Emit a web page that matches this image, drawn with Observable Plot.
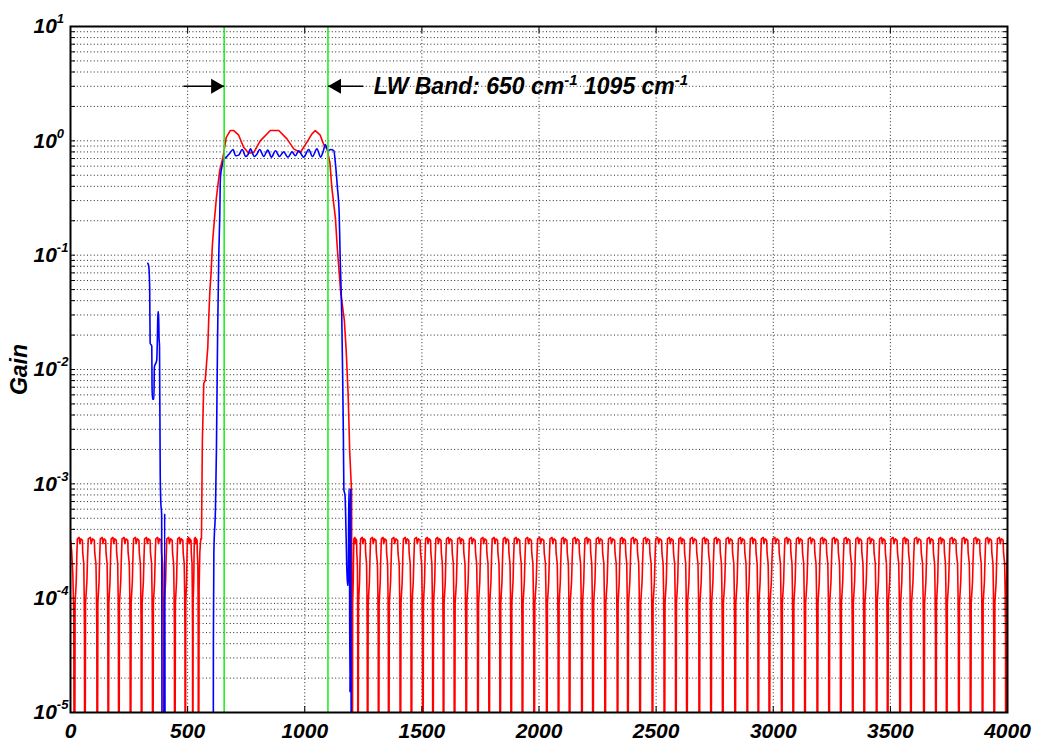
<!DOCTYPE html>
<html><head><meta charset="utf-8">
<script src="https://cdn.jsdelivr.net/npm/d3@7"></script>
<script src="https://cdn.jsdelivr.net/npm/@observablehq/plot@0.6"></script>
<style>
html,body{margin:0;padding:0;background:#fff;}
#chart{width:1043px;height:747px;}
</style>
</head><body><div id="chart"></div>
<script>
// ---------- axes / ticks ----------
const xTicks = [0, 500, 1000, 1500, 2000, 2500, 3000, 3500, 4000];
const xGridTicks = [500, 1000, 1500, 2000, 2500, 3000, 3500];
const yDecades = [-5, -4, -3, -2, -1, 0, 1];
const yMinorMultipliers = [1, 2, 3, 4, 5, 6, 7, 8, 9];
const yLabel = "Gain";

// ---------- band markers / annotation ----------
const greenX = [656, 1099];
const arrowTailX = [482, 1250];
const arrowTipX = [656, 1099];
const arrowGain = 3.0;
const annotationX = 1295;
const annotationText = "LW Band: 650 cm^-1 1095 cm^-1";

// ---------- red curve ----------
const nullGain = 1e-7; // nulls fall far below the 1e-5 floor
const redStartX = [0, 5, 10, 14];
const redStartY = [3.2e-4, 2.6e-4, 1.6e-4, 7e-5];
const redLeftNulls = [17, 61, 114, 161, 206, 256, 303, 351, 398, 445, 490, 522, 546];
const redBandX = [549, 552, 556, 559, 563, 569, 575, 586, 591, 595, 600, 606, 611, 623, 637, 651, 665, 682, 697, 718, 739, 761, 782, 810, 853, 889, 924, 953, 981, 1010, 1031, 1045, 1066, 1081, 1095, 1108, 1115, 1131, 1139, 1154, 1169, 1177, 1185, 1192, 1200];
const redBandY = [1.2e-4, 2.5e-4, 3.3e-4, 3.3e-4, 2.4e-3, 7.6e-3, 8e-3, 0.0155, 0.031, 0.049, 0.069, 0.126, 0.17, 0.32, 0.55, 0.72, 1.07, 1.23, 1.23, 1.12, 0.88, 0.78, 0.79, 1.0, 1.23, 1.23, 1.04, 0.85, 0.79, 0.98, 1.15, 1.23, 1.12, 0.93, 0.85, 0.63, 0.40, 0.21, 0.115, 0.046, 0.027, 0.0145, 0.0062, 0.0019, 8.3e-4];
const redRightNulls = [1203, 1227, 1268, 1315, 1358, 1408, 1455, 1504, 1547, 1592, 1639, 1689, 1739, 1787, 1834, 1881, 1929, 1979, 2033, 2083, 2130, 2183, 2230, 2282, 2335, 2379, 2431, 2484, 2535, 2584, 2631, 2684, 2734, 2784, 2837, 2889, 2936, 2983, 3036, 3085, 3135, 3188, 3238, 3288, 3339, 3388, 3441, 3488, 3541, 3587, 3643, 3694, 3740, 3792, 3842, 3893, 3943, 3993];
// shape of one side-lobe between two nulls (position as fraction of the null-to-null span)
const lobeFrac = [0.06, 0.17, 0.22, 0.28, 0.45, 0.52, 0.62, 0.77, 0.80, 0.90, 0.94, 0.97];
const lobeGain = [9e-5, 1.4e-4, 2.2e-4, 3.3e-4, 3.4e-4, 3.0e-4, 3.3e-4, 3.2e-4, 2.5e-4, 2.0e-4, 1.1e-4, 5e-5];
const redEndX = [3996, 4000];
const redEndY = [1.4e-4, 3.2e-4];

// ---------- blue curve ----------
const blueX = [330, 334, 338, 340, 347, 348, 350, 356, 358, 368, 371, 373, 376, 378, 380, 383, 386, 389, 392, 398, 402, 405, 606, 609, 610, 612, 619, 623, 628, 633, 637, 640, 647, 654, 665, 680, 694, 705, 718, 733, 748, 758, 768, 785, 795, 808, 825, 842, 858, 875, 892, 910, 928, 946, 960, 974, 995, 1017, 1033, 1052, 1068, 1078, 1088, 1100, 1110, 1124, 1131, 1139, 1147, 1151, 1158, 1162, 1165, 1167, 1172, 1177, 1182, 1186, 1188, 1190, 1193, 1196, 1200];
const blueY = [0.085, 0.080, 0.052, 0.017, 0.016, 0.0072, 0.0055, 0.0055, 0.0105, 0.012, 0.019, 0.032, 0.032, 0.019, 0.016, 0.0012, 0.00066, 0.00055, 1e-7, 1e-7, 0.00055, 1e-7, 1e-7, 1e-7, 4e-5, 2.5e-4, 6.3e-4, 2e-3, 0.02, 0.1, 0.21, 0.48, 0.6, 0.68, 0.72, 0.78, 0.84, 0.74, 0.75, 0.84, 0.73, 0.76, 0.85, 0.73, 0.76, 0.84, 0.73, 0.83, 0.72, 0.82, 0.73, 0.80, 0.72, 0.80, 0.74, 0.82, 0.72, 0.84, 0.73, 0.85, 0.72, 0.80, 0.93, 0.82, 0.84, 0.82, 0.63, 0.40, 0.23, 0.10, 0.029, 0.0083, 0.0025, 8.9e-4, 7.9e-4, 3.2e-4, 1.3e-4, 1.3e-4, 9e-4, 9e-4, 1.5e-5, 9e-4, 1e-7];

// ---------- build tables ----------
const yMajor = yDecades.map(e => Math.pow(10, e));
const yGrid = [];
yDecades.forEach(e => {
  if (e === 1) { yGrid.push(10); return; }
  yMinorMultipliers.forEach(m => yGrid.push(m * Math.pow(10, e)));
});

const red = [];
redStartX.forEach((x, i) => red.push({x, y: redStartY[i]}));
function addLobes(nulls) {
  nulls.forEach((a, i) => {
    red.push({x: a, y: nullGain});
    if (i < nulls.length - 1) {
      const b = nulls[i + 1];
      lobeFrac.forEach((f, j) => red.push({x: a + f * (b - a), y: lobeGain[j]}));
    }
  });
}
addLobes(redLeftNulls);
redBandX.forEach((x, i) => red.push({x, y: redBandY[i]}));
addLobes(redRightNulls);
redEndX.forEach((x, i) => red.push({x, y: redEndY[i]}));

const blue = blueX.map((x, i) => ({x, y: blueY[i]}));
const arrows = arrowTailX.map((t, i) => ({x1: t, x2: arrowTipX[i], y: arrowGain, dir: t < arrowTipX[i] ? 1 : -1}));
const arrowsRight = arrows.filter(d => d.dir > 0);
const arrowsLeft = arrows.filter(d => d.dir < 0);

const svg = Plot.plot({
  width: 1043,
  height: 747,
  marginLeft: 70,
  marginRight: 36,
  marginTop: 26,
  marginBottom: 35,
  x: {domain: [0, 4000]},
  y: {type: "log", domain: [1e-5, 10]},
  style: {fontFamily: "'Liberation Sans', Arial, sans-serif", fontWeight: "bold", fontStyle: "italic", fontSize: "21px", background: "white", color: "black"},
  marks: [
    Plot.gridY(yGrid, {stroke: "#111", strokeOpacity: 0.9, strokeDasharray: "1,2.4"}),
    Plot.gridX(xGridTicks, {stroke: "#111", strokeOpacity: 0.9, strokeDasharray: "1,2.4"}),
    Plot.line(red, {x: "x", y: "y", stroke: "#ff0000", strokeWidth: 1.6, clip: true}),
    Plot.line(blue, {x: "x", y: "y", stroke: "#0000ff", strokeWidth: 1.6, curve: "monotone-x", clip: true}),
    Plot.ruleX(greenX, {stroke: "#22ee22", strokeWidth: 1.6}),
    Plot.link(arrows, {x1: "x1", x2: "x2", y1: "y", y2: "y", stroke: "black", strokeWidth: 1.6}),
    Plot.dot(arrowsRight, {x: "x2", y: "y", symbol: "triangle", r: 5.6, fill: "black", stroke: null, rotate: 90, dx: -8.7}),
    Plot.dot(arrowsLeft, {x: "x2", y: "y", symbol: "triangle", r: 5.6, fill: "black", stroke: null, rotate: -90, dx: 8.7}),
    Plot.text([annotationText], {x: annotationX, y: arrowGain, text: d => d, textAnchor: "start", fontSize: 23}),
    Plot.axisY(yGrid, {anchor: "left", tickSize: -5, fill: "none", stroke: "black", label: null}),
    Plot.axisY(yGrid, {anchor: "right", tickSize: -5, fill: "none", stroke: "black", label: null}),
    Plot.axisX(xTicks, {anchor: "bottom", tickSize: -6, fill: "none", stroke: "black", label: null}),
    Plot.axisX(xTicks, {anchor: "top", tickSize: -6, fill: "none", stroke: "black", label: null}),
    Plot.axisY(yMajor, {anchor: "left", tickSize: 0, tickPadding: 37, textAnchor: "start", label: null, fontSize: 21, tickFormat: d => "10^" + Math.round(Math.log10(d))}),
    Plot.axisX(xTicks, {anchor: "bottom", tickSize: 0, tickPadding: 11, label: null, fontSize: 21, tickFormat: d => String(d)}),
    Plot.text([yLabel], {frameAnchor: "left", text: d => d, textAnchor: "middle", rotate: -90, dx: -51, fontSize: 23}),
    Plot.frame({stroke: "black", strokeWidth: 2})
  ]
});

// superscripts for "10^e" and "cm^-1"
const NS = "http://www.w3.org/2000/svg";
svg.querySelectorAll("text").forEach(t => {
  const s = t.textContent;
  if (!s.includes("^")) return;
  const isAnno = s.includes("cm");
  const shift = isAnno ? 9 : 10;
  const supSize = isAnno ? 15 : 13;
  const parts = s.split(/\^(\S+)/);
  while (t.firstChild) t.removeChild(t.firstChild);
  parts.forEach((p, i) => {
    if (p === "") return;
    const ts = document.createElementNS(NS, "tspan");
    ts.textContent = p;
    if (i % 2 === 1) {
      ts.setAttribute("dy", -shift);
      ts.setAttribute("font-size", supSize);
    } else if (i > 0) {
      ts.setAttribute("dy", shift);
    }
    t.appendChild(ts);
  });
});

document.getElementById("chart").appendChild(svg);
</script>
</body></html>
